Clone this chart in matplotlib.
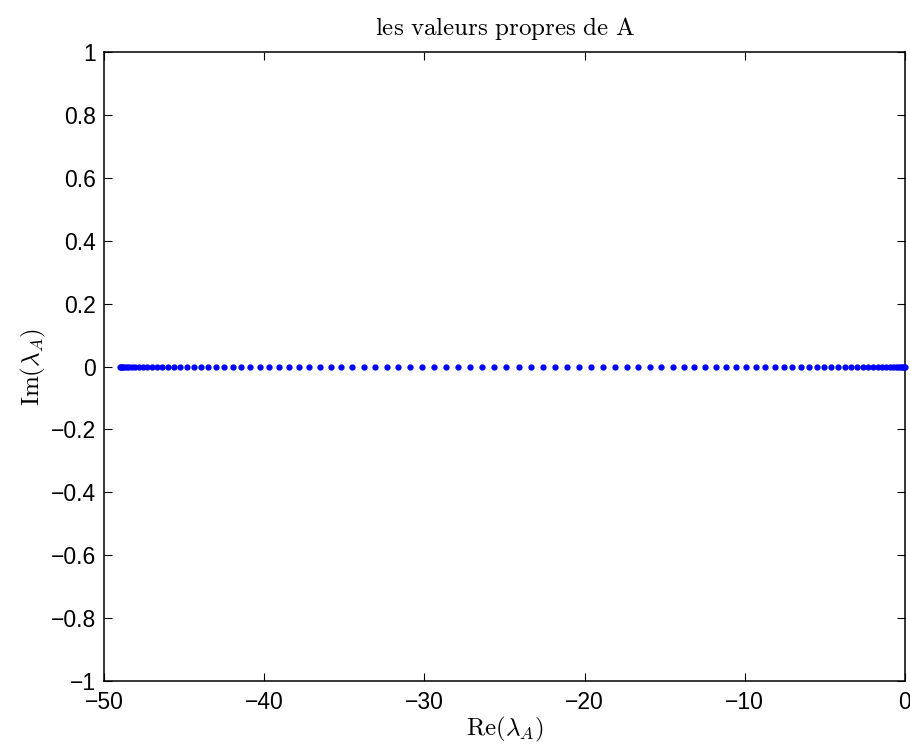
import matplotlib
matplotlib.use("Agg")
import matplotlib.pyplot as plt

plt.rcParams["font.family"] = ["Liberation Sans", "DejaVu Sans"]
plt.rcParams["mathtext.fontset"] = "cm"

# Eigenvalues of A (real parts); all imaginary parts are zero
re_lambda = [
    -0.01, -0.05, -0.11, -0.19, -0.30, -0.43, -0.58, -0.75, -0.95, -1.18,
    -1.42, -1.69, -1.98, -2.29, -2.62, -2.97, -3.35, -3.74, -4.16, -4.59,
    -5.04, -5.52, -6.01, -6.52, -7.04, -7.58, -8.14, -8.72, -9.31, -9.91,
    -10.53, -11.17, -11.81, -12.47, -13.14, -13.82, -14.51, -15.21, -15.92, -16.64,
    -17.37, -18.10, -18.84, -19.58, -20.33, -21.08, -21.84, -22.60, -23.36, -24.12,
    -24.88, -25.64, -26.40, -27.16, -27.92, -28.67, -29.42, -30.16, -30.90, -31.63,
    -32.36, -33.08, -33.79, -34.49, -35.18, -35.86, -36.53, -37.19, -37.83, -38.47,
    -39.09, -39.69, -40.28, -40.86, -41.42, -41.96, -42.48, -42.99, -43.48, -43.96,
    -44.41, -44.84, -45.26, -45.65, -46.03, -46.38, -46.71, -47.02, -47.31, -47.58,
    -47.82, -48.05, -48.25, -48.42, -48.57, -48.70, -48.81, -48.89, -48.95, -48.99,
]
im_lambda = [0.0] * len(re_lambda)

x_ticks = [-50, -40, -30, -20, -10, 0]
y_ticks = [-1, -0.8, -0.6, -0.4, -0.2, 0, 0.2, 0.4, 0.6, 0.8, 1]
y_tick_labels = ["\u22121", "\u22120.8", "\u22120.6", "\u22120.4", "\u22120.2", "0",
                 "0.2", "0.4", "0.6", "0.8", "1"]
x_tick_labels = ["\u221250", "\u221240", "\u221230", "\u221220", "\u221210", "0"]

fig = plt.figure(figsize=(9.1, 7.45), dpi=100)
ax = fig.add_axes([0.1143, 0.0859, 0.8802, 0.8443])

ax.plot(re_lambda, im_lambda, linestyle="none", marker=".", markersize=7,
        color=(0, 0, 1), clip_on=False, zorder=3)

ax.set_xlim(-50, 0)
ax.set_ylim(-1, 1)
ax.set_xticks(x_ticks)
ax.set_xticklabels(x_tick_labels)
ax.set_yticks(y_ticks)
ax.set_yticklabels(y_tick_labels)

for side in ax.spines.values():
    side.set_linewidth(1.1)
    side.set_color("black")

ax.tick_params(direction="in", length=6, width=0.8, top=True, right=True,
               labelsize=16.5, colors="black")
ax.tick_params(axis="x", pad=7)
ax.tick_params(axis="y", pad=6)

ax.set_title(r"$\mathrm{les\ valeurs\ propres\ de\ A}$", fontsize=18, pad=12)
ax.set_xlabel(r"$\mathrm{Re}(\lambda_A)$", fontsize=18, labelpad=1)
ax.set_ylabel(r"$\mathrm{Im}(\lambda_A)$", fontsize=18, labelpad=2)

fig.savefig("out.png", dpi=100)
